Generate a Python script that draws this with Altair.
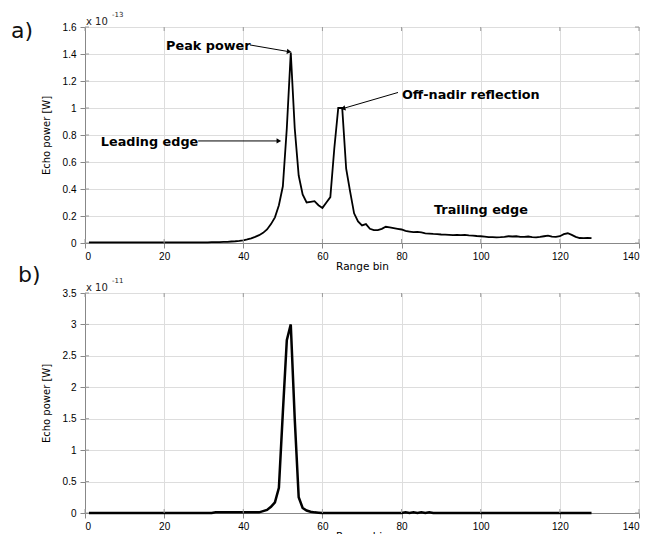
import altair as alt
import pandas as pd

# ---------------- data ----------------
bins = list(range(1, 129))

# panel a) echo power, units of 1e-13 W
power_a = [
    0.004, 0.004, 0.004, 0.004, 0.004, 0.004, 0.004, 0.004, 0.004, 0.004,
    0.004, 0.004, 0.004, 0.004, 0.004, 0.004, 0.004, 0.004, 0.004, 0.004,
    0.004, 0.004, 0.004, 0.004, 0.004, 0.004, 0.005, 0.005, 0.005, 0.005,
    0.005, 0.006, 0.006, 0.007, 0.008, 0.009, 0.011, 0.013, 0.016, 0.020,
    0.026, 0.034, 0.045, 0.058, 0.075, 0.100, 0.140, 0.190, 0.280, 0.420,
    0.850, 1.410, 0.850, 0.500, 0.360, 0.300, 0.305, 0.310, 0.280, 0.260,
    0.300, 0.340, 0.700, 1.000, 1.000, 0.550, 0.380, 0.220, 0.160, 0.130,
    0.140, 0.105, 0.095, 0.095, 0.105, 0.120, 0.115, 0.110, 0.105, 0.100,
    0.090, 0.085, 0.080, 0.082, 0.078, 0.072, 0.070, 0.067, 0.065, 0.063,
    0.062, 0.060, 0.058, 0.060, 0.058, 0.060, 0.057, 0.055, 0.052, 0.050,
    0.047, 0.044, 0.043, 0.042, 0.043, 0.045, 0.050, 0.048, 0.050, 0.046,
    0.045, 0.048, 0.043, 0.042, 0.045, 0.050, 0.055, 0.047, 0.045, 0.050,
    0.065, 0.072, 0.060, 0.045, 0.037, 0.036, 0.038, 0.036,
]

# panel b) echo power, units of 1e-11 W
power_b = [
    0, 0, 0, 0, 0, 0, 0, 0, 0, 0,
    0, 0, 0, 0, 0, 0, 0, 0, 0, 0,
    0, 0, 0, 0, 0, 0, 0, 0, 0, 0,
    0, 0, 0.01, 0.01, 0.01, 0.01, 0.01, 0.01, 0.01, 0.01,
    0.01, 0.01, 0.01, 0.01, 0.03, 0.05, 0.10, 0.17, 0.40, 1.60,
    2.75, 3.00, 1.50, 0.25, 0.08, 0.04, 0.02, 0.01, 0.005, 0,
    0, 0, 0, 0, 0, 0, 0, 0, 0, 0,
    0, 0, 0, 0, 0, 0, 0, 0, 0, 0,
    0.01, 0, 0.01, 0, 0.01, 0, 0.01, 0, 0, 0,
    0, 0, 0, 0, 0, 0, 0, 0, 0, 0,
    0, 0, 0, 0, 0, 0, 0, 0, 0, 0,
    0, 0, 0, 0, 0, 0, 0, 0, 0, 0,
    0, 0, 0, 0, 0, 0, 0, 0,
]

x_ticks = [0, 20, 40, 60, 80, 100, 120, 140]
y_ticks_a = [0, 0.2, 0.4, 0.6, 0.8, 1.0, 1.2, 1.4, 1.6]
y_ticks_b = [0, 0.5, 1.0, 1.5, 2.0, 2.5, 3.0, 3.5]

ann_labels = ["Peak power", "Leading edge", "Off-nadir reflection", "Trailing edge"]
ann_x = [20.5, 4.0, 80.1, 88.2]
ann_y = [1.46, 0.75, 1.10, 0.245]

arrow_x = [41.7, 28.6, 79.1]
arrow_y = [1.467, 0.756, 1.115]
arrow_x2 = [51.4, 48.8, 65.4]
arrow_y2 = [1.418, 0.756, 0.998]
arrow_angle = [99, 90, 254]

# ---------------- style ----------------
W, H1, H2 = 554, 216, 220
FONT = "DejaVu Sans"
GRAY = "#9a9a9a"
TXT = "#222222"
TL = 4  # inner tick length


def make_enc(yvals):
    xs = alt.Scale(domain=[0, 140], nice=False)
    ys = alt.Scale(domain=[0, yvals[-1]], nice=False)
    xaxis = alt.Axis(values=x_ticks, title="Range bin", labelOverlap=False,
                     titleFontWeight="normal", titleFont=FONT, titleFontSize=10.5,
                     titlePadding=0, labelPadding=3)
    yaxis = alt.Axis(values=yvals, format="~g", title="Echo power [W]", labelOverlap=False,
                     titleFontWeight="normal", titleFont=FONT, titleFontSize=10,
                     titlePadding=11, labelPadding=4)

    def X(field):
        return alt.X(field + ":Q", scale=xs, axis=xaxis)

    def Y(field):
        return alt.Y(field + ":Q", scale=ys, axis=yaxis)
    return X, Y


def inner_ticks(X, Y, vals, h):
    xt = alt.Chart(pd.DataFrame({"bin": x_ticks}))
    yt = alt.Chart(pd.DataFrame({"power": vals}))
    bot = xt.mark_rule(color=GRAY).encode(x=X("bin"), y=alt.value(h), y2=alt.value(h - TL))
    top = xt.mark_rule(color=GRAY).encode(x=X("bin"), y=alt.value(0), y2=alt.value(TL))
    left = yt.mark_rule(color=GRAY).encode(y=Y("power"), x=alt.value(0), x2=alt.value(TL))
    right = yt.mark_rule(color=GRAY).encode(y=Y("power"), x=alt.value(W), x2=alt.value(W - TL))
    return [bot, top, left, right]


def exponent(exp_text, y_base):
    base = alt.Chart(pd.DataFrame({"t": ["x 10"]})).mark_text(
        font=FONT, fontSize=10, color=TXT, align="left", baseline="alphabetic"
    ).encode(text="t:N", x=alt.value(1), y=alt.value(y_base))
    sup = alt.Chart(pd.DataFrame({"t": [exp_text]})).mark_text(
        font=FONT, fontSize=7, color=TXT, align="left", baseline="alphabetic"
    ).encode(text="t:N", x=alt.value(27), y=alt.value(y_base - 8))
    return [base, sup]


def letter(txt, x, y):
    return alt.Chart(pd.DataFrame({"t": [txt]})).mark_text(
        font=FONT, fontSize=22, color="#111111", align="left", baseline="alphabetic"
    ).encode(text="t:N", x=alt.value(x), y=alt.value(y))


# ---------------- panel a ----------------
Xa, Ya = make_enc(y_ticks_a)
df_a = pd.DataFrame({"bin": bins, "power": power_a})
line_a = alt.Chart(df_a).mark_line(color="black", strokeWidth=1.8).encode(x=Xa("bin"), y=Ya("power"))

df_ann = pd.DataFrame({"bin": ann_x, "power": ann_y, "label": ann_labels})
ann_text = alt.Chart(df_ann).mark_text(
    font=FONT, fontSize=12.8, fontWeight="bold", color="black", align="left", baseline="middle"
).encode(x=Xa("bin"), y=Ya("power"), text="label:N")

df_arr = pd.DataFrame({"bin": arrow_x, "power": arrow_y, "bin2": arrow_x2, "power2": arrow_y2,
                       "ang": arrow_angle})
arr_line = alt.Chart(df_arr).mark_rule(color="black", strokeWidth=1).encode(
    x=Xa("bin"), y=Ya("power"), x2="bin2:Q", y2="power2:Q")
arr_head = alt.Chart(df_arr).mark_point(shape="triangle", filled=True, size=28, color="black", opacity=1).encode(
    x=Xa("bin2"), y=Ya("power2"), angle=alt.Angle("ang:Q", scale=None))

top_chart = alt.layer(
    line_a, *inner_ticks(Xa, Ya, y_ticks_a, H1), arr_line, arr_head, ann_text,
    *exponent("-13", -2), letter("a)", -74, 11)
).properties(width=W, height=H1)

# ---------------- panel b ----------------
Xb, Yb = make_enc(y_ticks_b)
df_b = pd.DataFrame({"bin": bins, "power": power_b})
line_b = alt.Chart(df_b).mark_line(color="black", strokeWidth=2.5).encode(x=Xb("bin"), y=Yb("power"))

bottom_chart = alt.layer(
    line_b, *inner_ticks(Xb, Yb, y_ticks_b, H2),
    *exponent("-11", -2), letter("b)", -67, -11)
).properties(width=W, height=H2)

chart = alt.vconcat(top_chart, bottom_chart, spacing=50, bounds="flush").properties(
    padding={"left": 2, "top": 2, "right": 5, "bottom": 5},
).configure_view(
    stroke=GRAY, strokeWidth=1
).configure_axis(
    ticks=False, domain=False, grid=False, labelFont=FONT, labelFontSize=10, labelColor=TXT,
    titleFont=FONT, titleFontWeight="normal", titleColor=TXT, labelFlush=False, labelOverlap=False
).configure(background="white")

chart.save("out.html", embed_options={"renderer": "svg", "actions": False})
